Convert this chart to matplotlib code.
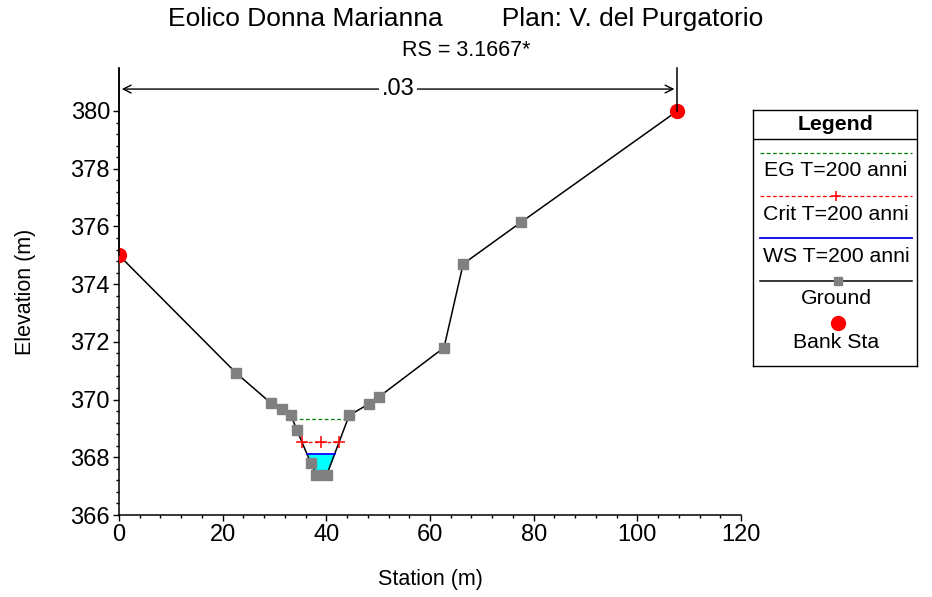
import numpy as np
import matplotlib
matplotlib.use("Agg")
import matplotlib.pyplot as plt
from matplotlib.ticker import MultipleLocator, FixedLocator
from matplotlib.lines import Line2D

plt.rcParams['font.family'] = ['Liberation Sans', 'DejaVu Sans']

# Cross section geometry
station = [0.0, 22.6, 29.3, 31.4, 33.2, 34.3, 37.0, 38.0, 40.1, 44.4, 48.2, 50.2, 62.7, 66.4, 77.6, 107.7]
ground = [375.0, 370.92, 369.88, 369.67, 369.45, 368.95, 367.80, 367.40, 367.40, 369.45, 369.85, 370.10, 371.80, 374.70, 376.15, 380.0]
bank_sta = [0.0, 107.7]
bank_elev = [375.0, 380.0]

# Water levels for T=200 anni
eg_level = 369.32
crit_level = 368.52
ws_level = 368.11
mann_n = ".03"


def crossings(level):
    # left and right intersections of a horizontal level with the channel
    st = np.array(station)
    el = np.array(ground)
    low = int(np.argmin(el))
    left = right = None
    for i in range(low, 0, -1):
        if el[i - 1] >= level >= el[i]:
            left = st[i - 1] + (el[i - 1] - level) / (el[i - 1] - el[i]) * (st[i] - st[i - 1])
            break
    for i in range(low, len(st) - 1):
        if el[i] <= level <= el[i + 1]:
            right = st[i] + (level - el[i]) / (el[i + 1] - el[i]) * (st[i + 1] - st[i])
            break
    return left, right


fig = plt.figure(figsize=(9.32, 5.97), dpi=100)
ax = fig.add_axes([119 / 932, 1 - 515 / 597, 622 / 932, 447 / 597])

# water area
wl, wr = crossings(ws_level)
xs = np.linspace(wl, wr, 200)
ax.fill_between(xs, np.interp(xs, station, ground), ws_level, color='#00ffff', lw=0, zorder=1)
ax.plot([wl, wr], [ws_level, ws_level], color='#0000ff', lw=1.3, zorder=3)

el_, er_ = crossings(eg_level)
ax.plot([el_, er_], [eg_level, eg_level], color='#008000', lw=0.9, ls=(0, (3, 2)), zorder=3)

cl, cr = crossings(crit_level)
ax.plot([cl, cr], [crit_level, crit_level], color='#ff0000', lw=0.9, ls=(0, (3, 2)), zorder=3)
ax.plot([cl, (cl + cr) / 2, cr], [crit_level] * 3, ls='none', marker='+', ms=8, mew=1.1, color='#ff0000', zorder=3)

ax.plot(station, ground, color='black', lw=1.1, zorder=2)
ax.plot(station, ground, ls='none', marker='s', ms=6.5, color='#808080', zorder=4)
ax.plot(bank_sta, bank_elev, ls='none', marker='o', ms=10, color='#ff0000', zorder=5)

ax.set_xlim(0, 120)
ax.set_ylim(366, 381.49)

# Manning's n bracket
ytop = 381.49
arrow_y = 380.76
for xb, yb in zip(bank_sta, bank_elev):
    ax.plot([xb, xb], [yb, ytop], color='black', lw=1.1, clip_on=False, zorder=6)
xm = (bank_sta[0] + bank_sta[1]) / 2
ax.annotate('', xy=(bank_sta[0], arrow_y), xytext=(xm, arrow_y),
            arrowprops=dict(arrowstyle='->', lw=1.0, color='black', mutation_scale=14))
ax.annotate('', xy=(bank_sta[1], arrow_y), xytext=(xm, arrow_y),
            arrowprops=dict(arrowstyle='->', lw=1.0, color='black', mutation_scale=14))
ax.text(xm, arrow_y, mann_n, ha='center', va='center', fontsize=17,
        bbox=dict(facecolor='white', edgecolor='none', pad=2), zorder=7)

ax.spines['top'].set_visible(False)
ax.spines['right'].set_visible(False)
ax.spines['left'].set_linewidth(1.1)
ax.spines['bottom'].set_linewidth(1.1)
ax.xaxis.set_major_locator(MultipleLocator(20))
ax.xaxis.set_minor_locator(MultipleLocator(4))
ax.yaxis.set_major_locator(FixedLocator(np.arange(366, 381, 2)))
ax.yaxis.set_minor_locator(FixedLocator(np.arange(366, 380.01, 0.4)))
ax.tick_params(which='major', length=4.5, width=1, labelsize=17, pad=2)
ax.tick_params(which='minor', length=2.5, width=1)

ax.set_xlabel('Station (m)', fontsize=15.5)
ax.set_ylabel('Elevation (m)', fontsize=15.5)
ax.xaxis.set_label_coords(0.5, (515 - 569) / 447)
ax.yaxis.set_label_coords((36 - 119) / 622, 0.5)

fig.text(0.5, 1 - 19 / 597, 'Eolico Donna Marianna        Plan: V. del Purgatorio',
         ha='center', va='center', fontsize=19)
fig.text(0.5, 1 - 50 / 597, 'RS = 3.1667*', ha='center', va='center', fontsize=15.5)

# Legend box
lg = fig.add_axes([753 / 932, 1 - 366 / 597, 164 / 932, 256 / 597])
lg.set_xlim(753, 917)
lg.set_ylim(366, 110)
lg.set_xticks([])
lg.set_yticks([])
for s in lg.spines.values():
    s.set_linewidth(1.0)
fs = 15.3
lg.text(836, 125, 'Legend', ha='center', va='center', fontsize=fs, fontweight='bold')
lg.add_line(Line2D([753, 917], [139, 139], color='black', lw=1.0))
lx = [760, 912]
lg.add_line(Line2D(lx, [153, 153], color='#008000', lw=0.9, ls=(0, (3, 2))))
lg.text(836, 170, 'EG T=200 anni', ha='center', va='center', fontsize=fs)
lg.add_line(Line2D(lx, [196, 196], color='#ff0000', lw=0.9, ls=(0, (3, 2))))
lg.plot([836], [196], marker='+', ms=7, mew=1.1, color='#ff0000')
lg.text(836, 214, 'Crit T=200 anni', ha='center', va='center', fontsize=fs)
lg.add_line(Line2D(lx, [238, 238], color='#0000ff', lw=1.3))
lg.text(836, 256, 'WS T=200 anni', ha='center', va='center', fontsize=fs)
lg.add_line(Line2D(lx, [281, 281], color='black', lw=1.1))
lg.plot([838], [281], marker='s', ms=6, color='#808080')
lg.text(836, 299, 'Ground', ha='center', va='center', fontsize=fs)
lg.plot([838], [323], marker='o', ms=10, color='#ff0000')
lg.text(836, 342, 'Bank Sta', ha='center', va='center', fontsize=fs)

fig.savefig('out.png', dpi=100)
